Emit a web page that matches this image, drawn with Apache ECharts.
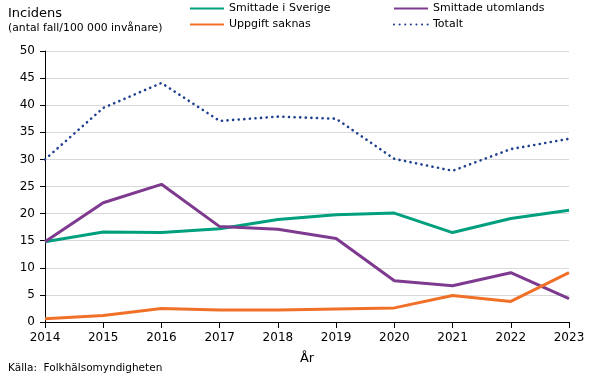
<!DOCTYPE html>
<html>
<head>
<meta charset="utf-8">
<script src="https://cdn.jsdelivr.net/npm/echarts@6/dist/echarts.min.js"></script>
<style>html,body{margin:0;padding:0;background:#fff}#c{width:604px;height:379px}</style>
</head>
<body>
<div id="c"></div>
<script>
const years = ['2014','2015','2016','2017','2018','2019','2020','2021','2022','2023'];
const sverige = [14.8, 16.6, 16.5, 17.2, 18.9, 19.8, 20.1, 16.5, 19.1, 20.6];
const utomlands = [14.8, 22.0, 25.4, 17.6, 17.1, 15.4, 7.6, 6.7, 9.1, 4.3];
const saknas = [0.6, 1.2, 2.5, 2.2, 2.2, 2.4, 2.6, 4.9, 3.8, 9.1];
const totalt = [30.0, 39.5, 44.1, 37.1, 37.9, 37.5, 30.1, 27.9, 31.9, 33.8];

const F = 'DejaVu Sans, Verdana, sans-serif';
const chart = echarts.init(document.getElementById('c'));
const legendBase = {itemWidth: 34, itemHeight: 4, itemGap: 0, itemStyle: {opacity: 0},
  textStyle: {fontFamily: F, fontSize: 11, color: '#000', padding: [0,0,0,0]}, padding: 0};
chart.setOption({
  animation: false,
  textStyle: {fontFamily: F},
  grid: {left: 45, right: 35, top: 51, bottom: 57},
  legend: [
    Object.assign({data: ['Smittade i Sverige'], left: 189, top: 3}, legendBase),
    Object.assign({data: ['Smittade utomlands'], left: 393, top: 3}, legendBase),
    Object.assign({data: ['Uppgift saknas'], left: 189, top: 19}, legendBase),
    Object.assign({data: ['Totalt'], left: 393, top: 19}, legendBase)
  ],
  graphic: [
    {type: 'text', left: 8, top: 7, style: {text: 'Incidens', font: '13px ' + F, fill: '#000'}},
    {type: 'text', left: 8, top: 23, style: {text: '(antal fall/100 000 invånare)', font: '10.8px ' + F, fill: '#000'}},
    {type: 'text', left: 8, top: 363, style: {text: 'Källa:  Folkhälsomyndigheten', font: '10.5px ' + F, fill: '#000'}}
  ],
  xAxis: {
    type: 'category', data: years, boundaryGap: false,
    name: 'År', nameLocation: 'middle', nameGap: 30,
    nameTextStyle: {fontFamily: F, fontSize: 13, color: '#000'},
    axisLine: {lineStyle: {color: '#000', width: 1}},
    axisTick: {show: true, length: 6, lineStyle: {color: '#000'}, alignWithLabel: true},
    axisLabel: {fontFamily: F, fontSize: 12, color: '#000', margin: 10},
    splitLine: {show: false}
  },
  yAxis: {
    type: 'value', min: 0, max: 50, interval: 5,
    axisLine: {show: true, lineStyle: {color: '#000', width: 1}},
    axisTick: {show: true, length: 5, lineStyle: {color: '#000'}},
    axisLabel: {fontFamily: F, fontSize: 12, color: '#000', margin: 10},
    splitLine: {show: true, lineStyle: {color: '#d9d9d9', width: 1}}
  },
  series: [
    {name: 'Smittade i Sverige', type: 'line', data: sverige, symbol: 'none', color: '#00A07E', lineStyle: {width: 3, color: '#00A07E'}, z: 3},
    {name: 'Smittade utomlands', type: 'line', data: utomlands, symbol: 'none', color: '#7E3A8F', lineStyle: {width: 3, color: '#7E3A8F'}, z: 3},
    {name: 'Uppgift saknas', type: 'line', data: saknas, symbol: 'none', color: '#F07028', lineStyle: {width: 3, color: '#F07028'}, z: 3},
    {name: 'Totalt', type: 'line', data: totalt, symbol: 'none', color: '#1F3F8F', lineStyle: {width: 2.6, color: '#1F3F8F', type: [0.1, 5.5], cap: 'round'}, z: 3}
  ]
});
</script>
</body>
</html>
